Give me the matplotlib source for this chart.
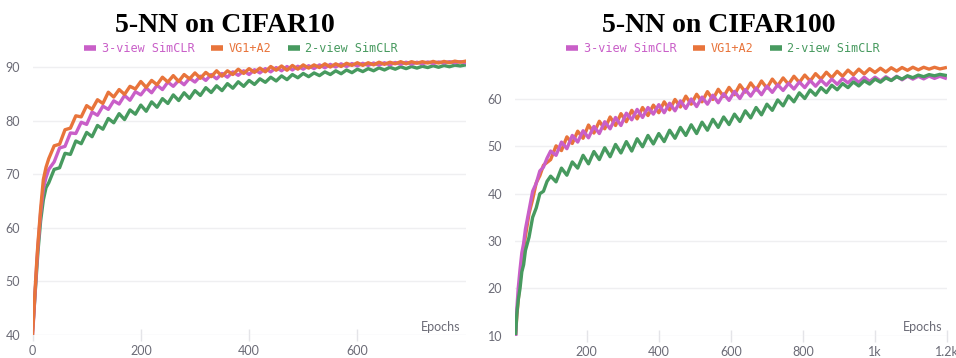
import matplotlib.pyplot as plt
from matplotlib.lines import Line2D

# ---- data ----
# CIFAR10 panel
epochs_c10 = [0, 2, 4, 6, 8, 10, 15, 20, 25, 30] + list(range(40, 801, 10))

vg_c10 = [40, 43.5, 47, 50.5, 54, 57, 63.5, 69, 71.3, 72.9,
          75.3, 75.6, 78.3, 78.6, 80.9, 80.7, 82.8, 82.1, 83.9, 83.2,
          85.3, 84.4, 85.8, 84.9, 86.4, 85.9, 87.3, 86.2, 87.5, 86.7,
          88.1, 87.2, 88.4, 87.3, 88.6, 87.8, 88.9, 87.9, 89.0, 88.2,
          89.3, 88.3, 89.3, 88.6, 89.6, 88.8, 89.7, 89.0, 89.8, 89.1,
          90.1, 89.4, 90.2, 89.4, 90.3, 89.6, 90.4, 89.8, 90.4, 89.9,
          90.6, 90.0, 90.6, 90.1, 90.7, 90.3, 90.8, 90.3, 90.8, 90.4,
          90.9, 90.5, 90.9, 90.6, 91.0, 90.6, 91.0, 90.7, 91.0, 90.75,
          91.05, 90.75, 91.05, 90.8, 91.1, 90.9, 91.1]

sim3_c10 = [40, 43, 46.5, 50, 53.5, 56.5, 62.8, 67.3, 69.4, 70.9,
            72.3, 74.9, 75.2, 77.7, 77.6, 79.7, 79.3, 81.6, 81.0, 82.7,
            82.1, 83.7, 83.1, 84.7, 83.8, 85.4, 84.8, 86.1, 85.2, 86.6,
            85.8, 87.2, 86.4, 87.5, 86.7, 87.9, 87.2, 88.3, 87.5, 88.6,
            87.8, 88.8, 88.1, 89.1, 88.45, 89.3, 88.6, 89.5, 88.9, 89.7,
            89.1, 89.9, 89.3, 90.1, 89.45, 90.15, 89.6, 90.25, 89.7, 90.4,
            89.85, 90.5, 90.0, 90.6, 90.1, 90.65, 90.2, 90.7, 90.3, 90.75,
            90.35, 90.8, 90.4, 90.85, 90.5, 90.9, 90.55, 90.9, 90.6, 90.95,
            90.65, 90.95, 90.75, 91.0, 90.8, 91.0, 90.8]

sim2_c10 = [41, 43.5, 46.5, 49.5, 52.5, 55.5, 61.3, 65.2, 67.5, 68.4,
            70.9, 71.2, 73.9, 73.7, 76.2, 75.7, 77.8, 77.0, 79.1, 78.4,
            80.4, 79.6, 81.3, 80.2, 82.0, 81.2, 82.9, 81.75, 83.5, 82.5,
            84.1, 83.2, 84.8, 83.75, 85.2, 84.15, 85.6, 84.7, 86.15, 85.25,
            86.5, 85.6, 86.9, 86.05, 87.25, 86.4, 87.5, 86.75, 87.8, 87.15,
            88.1, 87.4, 88.35, 87.65, 88.6, 88.0, 88.8, 88.2, 88.9, 88.4,
            89.1, 88.6, 89.3, 88.75, 89.45, 88.95, 89.6, 89.15, 89.7, 89.3,
            89.85, 89.45, 89.95, 89.6, 90.05, 89.7, 90.1, 89.8, 90.15, 89.9,
            90.25, 89.95, 90.3, 90.05, 90.35, 90.2, 90.4]

# CIFAR100 panel
epochs_c100 = [3, 6, 10, 15, 20, 25, 30, 40, 50, 60, 70, 80, 90] + list(range(100, 1196, 15))

vg_c100 = [10.5, 14, 17.5, 21.5, 24.5, 28.5, 31, 35.8, 38.8, 42.3, 43.8, 46, 46.6,
           47.2, 50.1, 49.1, 52.0, 50.6, 53.2, 51.7, 54.5, 52.8, 55.3,
           53.7, 56.2, 54.4, 56.9, 55.2, 57.6, 55.8, 58.2, 56.5, 58.7,
           57.1, 59.4, 57.7, 59.9, 58.3, 60.6, 58.9, 61.0, 59.4, 61.55,
           59.9, 62.05, 60.5, 62.45, 60.9, 63.0, 61.45, 63.4, 61.9, 63.8,
           62.3, 64.2, 62.8, 64.45, 63.1, 64.8, 63.5, 65.05, 63.8, 65.35,
           64.2, 65.65, 64.5, 65.85, 64.8, 66.1, 65.1, 66.3, 65.3, 66.4,
           65.6, 66.5, 65.7, 66.6, 65.9, 66.65, 66.05, 66.7, 66.15, 66.7,
           66.3, 66.7, 66.35, 66.6]

sim3_c100 = [10, 15.5, 20, 24, 27.5, 29.5, 32.5, 36.5, 40.5, 42.2, 44.8, 45.6, 47.5,
             49.0, 48.1, 50.9, 49.5, 52.3, 50.9, 53.3, 51.8, 54.2, 52.7,
             55.2, 53.7, 56.1, 54.4, 57.0, 55.6, 57.8, 56.1, 58.2, 56.8,
             58.8, 57.1, 59.1, 57.5, 59.6, 58.0, 60.0, 58.4, 60.4, 58.9,
             60.8, 59.2, 61.1, 59.7, 61.6, 60.1, 62.0, 60.6, 62.3, 60.9,
             62.7, 61.4, 63.0, 61.8, 63.3, 62.1, 63.6, 62.4, 63.9, 62.7,
             64.0, 62.9, 64.2, 63.1, 64.3, 63.4, 64.5, 63.5, 64.6, 63.7,
             64.6, 63.8, 64.7, 63.95, 64.8, 64.05, 64.8, 64.2, 64.8, 64.25,
             64.85, 64.35, 64.8, 64.4]

sim2_c100 = [10.5, 14.5, 17.5, 20, 23.5, 25, 28, 30.8, 35, 37, 40, 40.5, 42.6,
             43.7, 42.5, 45.4, 43.9, 46.7, 45.4, 48.1, 46.3, 48.9, 47.2,
             49.7, 47.8, 50.4, 48.6, 51.0, 49.0, 51.6, 49.9, 52.3, 50.5,
             52.7, 51.0, 53.4, 51.7, 54.0, 52.3, 54.55, 52.7, 55.1, 53.4,
             55.7, 54.0, 56.2, 54.6, 56.8, 55.25, 57.5, 56.0, 58.2, 56.65,
             58.9, 57.6, 59.8, 58.55, 60.65, 59.4, 61.3, 60.1, 61.9, 60.8,
             62.4, 61.35, 62.9, 61.95, 63.25, 62.4, 63.6, 62.75, 63.85, 63.15,
             64.2, 63.55, 64.45, 63.9, 64.7, 64.2, 64.9, 64.5, 65.05, 64.7,
             65.15, 64.9, 65.2, 65.0]

labels = ['3-view SimCLR', 'VG1+A2', '2-view SimCLR']
magenta = '#c95fc8'
orange = '#e8743b'
green = '#479a5f'
gray = '#6b6b76'

plt.rcParams['font.family'] = ['Lato', 'DejaVu Sans']

fig = plt.figure(figsize=(9.56, 3.58), dpi=100)
ax1 = fig.add_axes([0.034, 0.0642, 0.4531, 0.7785])
ax2 = fig.add_axes([0.5383, 0.0623, 0.4524, 0.767])

# left: green below, orange on top
ax1.plot(epochs_c10, sim2_c10, color=green, lw=2.4, zorder=3)
ax1.plot(epochs_c10, sim3_c10, color=magenta, lw=2.4, zorder=4)
ax1.plot(epochs_c10, vg_c10, color=orange, lw=2.4, zorder=5)

# right: magenta over orange, green on top
ax2.plot(epochs_c100, vg_c100, color=orange, lw=2.4, zorder=3)
ax2.plot(epochs_c100, sim3_c100, color=magenta, lw=2.4, zorder=4)
ax2.plot(epochs_c100, sim2_c100, color=green, lw=2.4, zorder=5)

ax1.set_xlim(0, 800)
ax1.set_ylim(40, 92)
ax1.set_xticks([0, 200, 400, 600])
ax1.set_yticks([40, 50, 60, 70, 80, 90])

ax2.set_xlim(0, 1200)
ax2.set_ylim(10, 68)
ax2.set_xticks([200, 400, 600, 800, 1000, 1200])
ax2.set_xticklabels(['200', '400', '600', '800', '1k', '1.2k'])
ax2.set_yticks([10, 20, 30, 40, 50, 60])

for ax in (ax1, ax2):
    for s in ax.spines.values():
        s.set_visible(False)
    ax.grid(axis='y', color='#efeff1', lw=1, zorder=0)
    ax.tick_params(axis='y', length=0, pad=9, labelsize=9, labelcolor=gray)
    ax.tick_params(axis='x', direction='inout', length=9, width=1, color='#e4e4e8',
                   pad=3, labelsize=9, labelcolor=gray)
    ax.text(0.988, 0.03, 'Epochs', transform=ax.transAxes, ha='right', va='center',
            fontsize=9, color=gray)

# titles
fig.text(0.2348, 0.9106, '5-NN on CIFAR10', ha='center', va='baseline',
         fontsize=20, fontweight='bold', family='Liberation Serif')
fig.text(0.752, 0.9106, '5-NN on CIFAR100', ha='center', va='baseline',
         fontsize=20, fontweight='bold', family='Liberation Serif')

# legends
handles = [Line2D([], [], color=c, lw=4, solid_capstyle='butt') for c in (magenta, orange, green)]
for cx in (241 / 956, 723 / 956):
    fig.legend(handles, labels, loc='center', bbox_to_anchor=(cx, 1 - 49 / 358),
               ncol=3, frameon=False, handlelength=1.0, handletextpad=0.5,
               columnspacing=1.4, labelcolor='linecolor',
               prop={'family': 'DejaVu Sans Mono', 'size': 8.5})

fig.savefig('out.png', dpi=100)
